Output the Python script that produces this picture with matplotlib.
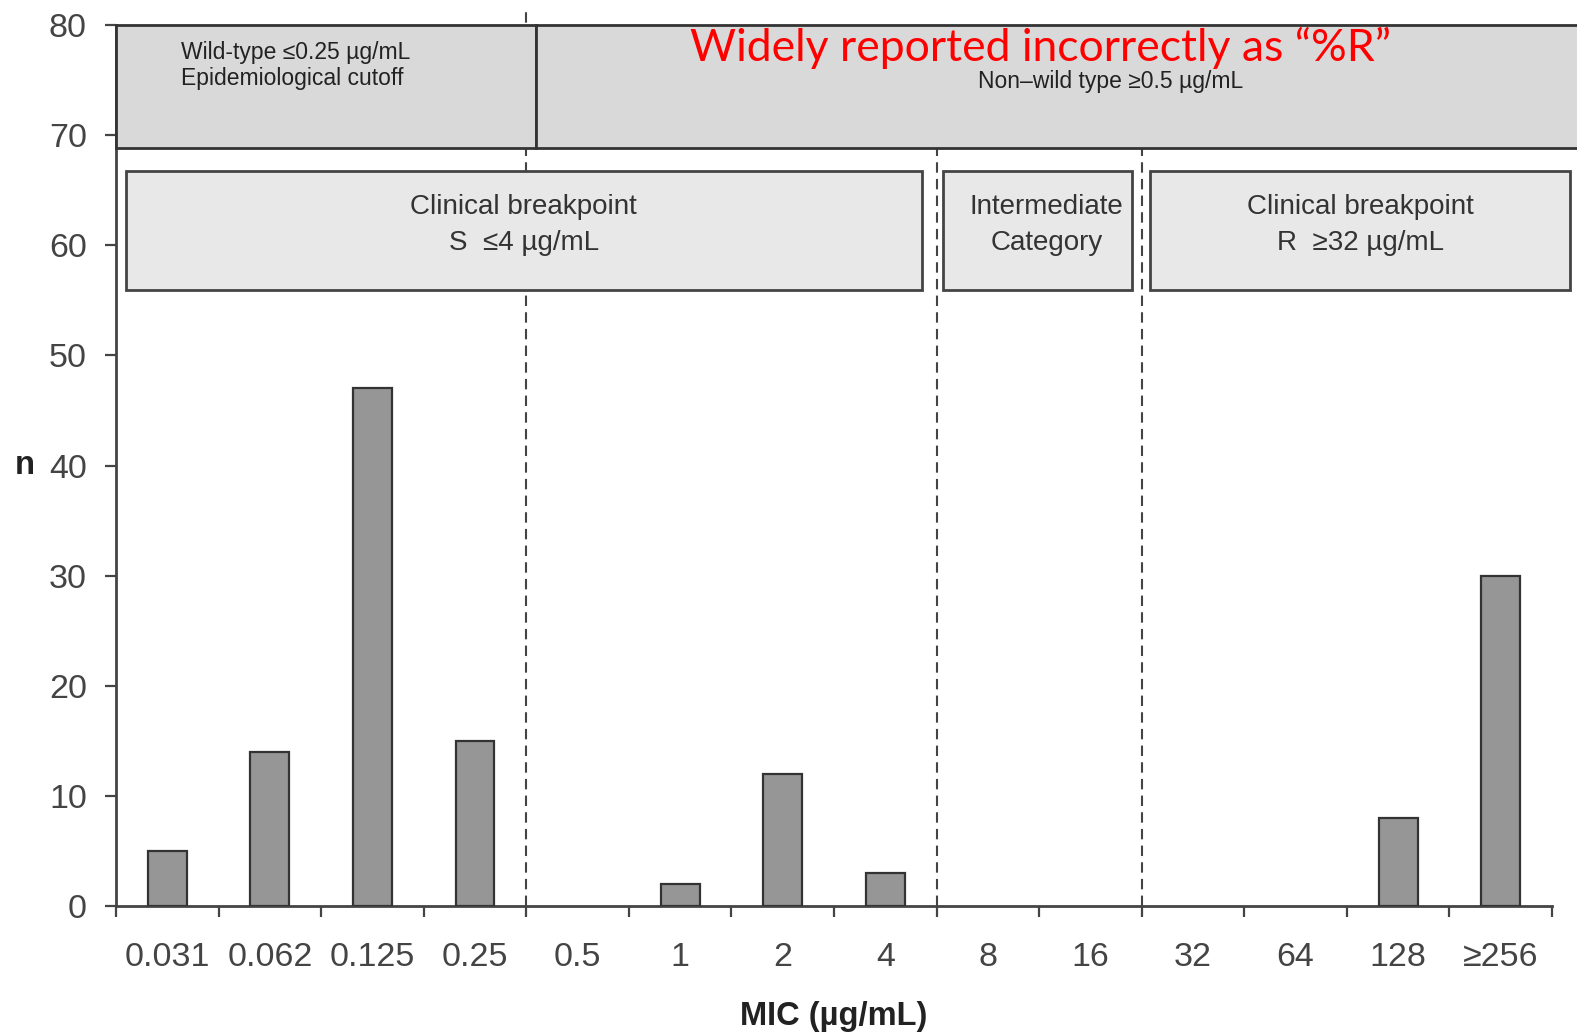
import numpy as np
import matplotlib
matplotlib.use('Agg')
import matplotlib.pyplot as plt
from matplotlib.patches import Rectangle

# MIC categories and number of isolates
mic_labels = ['0.031', '0.062', '0.125', '0.25', '0.5', '1', '2', '4',
              '8', '16', '32', '64', '128', '≥256']
n_isolates = [5, 14, 47, 15, 0, 2, 12, 3, 0, 0, 0, 0, 8, 30]

plt.rcParams['font.family'] = ['Liberation Sans', 'DejaVu Sans']

fig = plt.figure(figsize=(15.77, 10.33), dpi=100)
ax = fig.add_axes([0.07356, 0.12294, 0.91058, 0.85286])

x = np.arange(len(mic_labels))
# empty classes get no outline
edges = ['#333333' if v > 0 else 'none' for v in n_isolates]
ax.bar(x, n_isolates, width=0.38, color='#969696', edgecolor=edges,
       linewidth=1.6, zorder=3)

ax.set_xlim(-0.5, len(mic_labels) - 0.5)
ax.set_ylim(0, 80)
ax.set_yticks(range(0, 81, 10))

# ticks at category borders, labels at centres
ax.set_xticks(np.arange(-0.5, len(mic_labels), 1))
ax.set_xticklabels([])
ax.set_xticks(x, minor=True)
ax.set_xticklabels(mic_labels, minor=True)
ax.tick_params(axis='x', which='major', length=8, width=1.6, color='#444444')
ax.tick_params(axis='x', which='minor', length=0, pad=26, labelsize=24.5,
               labelcolor='#444444')
ax.tick_params(axis='y', length=8, width=1.6, color='#444444', pad=13,
               labelsize=24.5, labelcolor='#444444')

for s in ['top', 'right']:
    ax.spines[s].set_visible(False)
for s in ['left', 'bottom']:
    ax.spines[s].set_linewidth(2)
    ax.spines[s].set_color('#444444')

ax.set_xlabel('MIC (µg/mL)', fontsize=23.5, fontweight='bold', color='#222222')
ax.xaxis.set_label_coords(0.5, -0.1255)
ax.xaxis.label.set_va('center')
ax.set_ylabel('n', fontsize=23.5, fontweight='bold', color='#222222', rotation=0)
ax.yaxis.set_label_coords(-0.0634, 0.5)
ax.yaxis.label.set_va('center')

# dashed separators
ax.plot([3.5, 3.5], [0, 81.2], ls=(0, (5, 3)), color='#444444', lw=1.5,
        clip_on=False, zorder=2)
for xv in [7.5, 9.5]:
    ax.plot([xv, xv], [0, 80], ls=(0, (5, 3)), color='#444444', lw=1.5,
            clip_on=False, zorder=2)

# epidemiological cutoff boxes
ax.add_patch(Rectangle((-0.5, 68.85), 4.09, 11.15, fc='#d9d9d9', ec='#333333',
                       lw=2, zorder=4, clip_on=False))
ax.add_patch(Rectangle((3.59, 68.85), 10.5, 11.15, fc='#d9d9d9', ec='#333333',
                       lw=2, zorder=4, clip_on=False))

# clinical breakpoint boxes
ax.add_patch(Rectangle((-0.405, 55.9), 7.76, 10.8, fc='#e8e8e8', ec='#444444',
                       lw=2, zorder=4, clip_on=False))
ax.add_patch(Rectangle((7.56, 55.9), 1.85, 10.8, fc='#e8e8e8', ec='#444444',
                       lw=2, zorder=4, clip_on=False))
ax.add_patch(Rectangle((9.58, 55.9), 4.10, 10.8, fc='#e8e8e8', ec='#444444',
                       lw=2, zorder=4, clip_on=False))

ax.text(0.134, 76.3, 'Wild-type ≤0.25 µg/mL\nEpidemiological cutoff',
        ha='left', va='center', fontsize=16.5, color='#222222',
        linespacing=1.15, zorder=5)
ax.text(9.2, 74.9, 'Non–wild type ≥0.5 µg/mL', ha='center', va='center',
        fontsize=16.5, color='#222222', zorder=5)
ax.text(8.515, 77.9, 'Widely reported incorrectly as “%R”', ha='center',
        va='center', fontsize=32, color='#ff0000', family=['Lato', 'DejaVu Sans'],
        zorder=5)

ax.text(3.475, 61.8, 'Clinical breakpoint\nS  ≤4 µg/mL', ha='center',
        va='center', fontsize=20, color='#333333', linespacing=1.5, zorder=5)
ax.text(8.57, 61.8, 'Intermediate\nCategory', ha='center', va='center',
        fontsize=20, color='#333333', linespacing=1.5, zorder=5)
ax.text(11.63, 61.8, 'Clinical breakpoint\nR  ≥32 µg/mL', ha='center',
        va='center', fontsize=20, color='#333333', linespacing=1.5, zorder=5)

fig.savefig('out.png', dpi=100)
